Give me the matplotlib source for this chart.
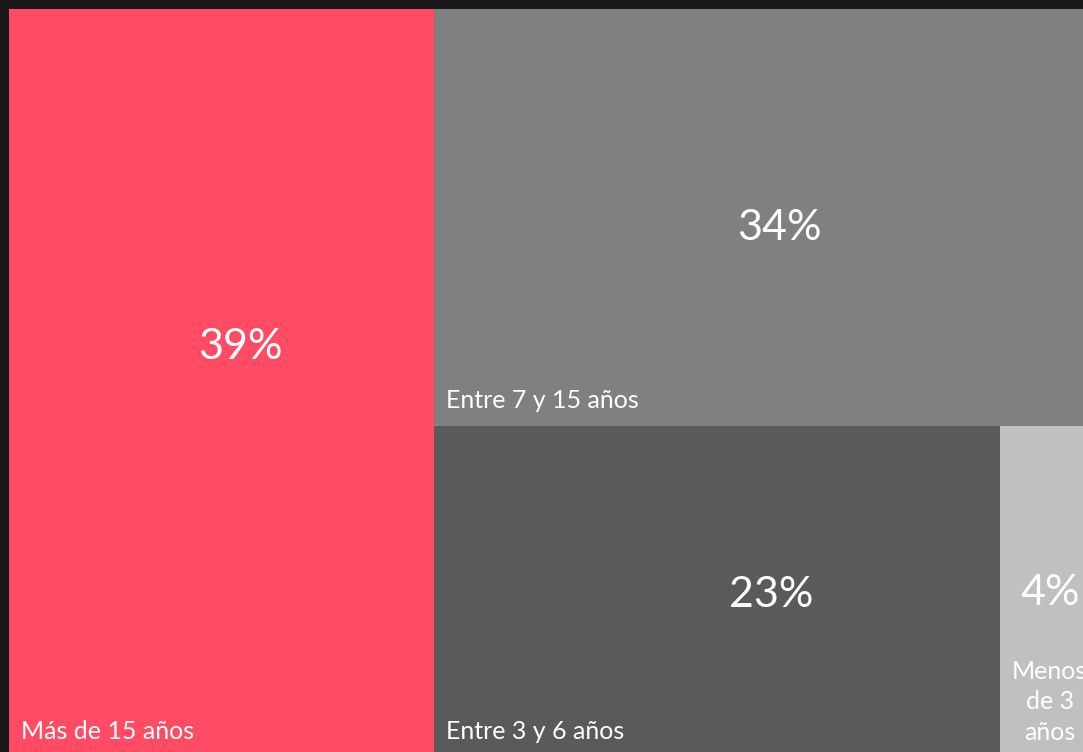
import matplotlib.pyplot as plt
from matplotlib.patches import Rectangle

labels = ["Más de 15 años", "Entre 7 y 15 años", "Entre 3 y 6 años", "Menos\nde 3\naños"]
values = [39, 34, 23, 4]
colors = ["#FF4B63", "#808080", "#5A5A5A", "#C0C0C0"]

W, H = 1083, 752
# treemap canvas is a bit larger than the picture (cropped right and bottom)
CW, CH = 1090, 748
fig = plt.figure(figsize=(W / 100, H / 100), dpi=100)
fig.patch.set_facecolor("#171717")
ax = fig.add_axes([9 / W, (H - 9 - CH) / H, CW / W, CH / H])
ax.set_xlim(0, 1)
ax.set_ylim(1, 0)
ax.axis("off")

total = sum(values)
# slice layout: first column full height, then top row, then bottom row split
w0 = values[0] / total
rects = [(0, 0, w0, 1)]
rest_w = 1 - w0
h1 = values[1] / total / rest_w
rects.append((w0, 0, rest_w, h1))
bottom_h = 1 - h1
w2 = values[2] / (values[2] + values[3]) * rest_w
rects.append((w0, h1, w2, bottom_h))
rects.append((w0 + w2, h1, rest_w - w2, bottom_h))

# where the percentages sit inside each box (fractions of the box)
pct_pos = [(0.545, 0.452), (0.52, 0.525), (0.595, 0.51), (0.5, 0.505)]

font = "Lato"
for i, (x, y, w, h) in enumerate(rects):
    ax.add_patch(Rectangle((x, y), w, h, facecolor=colors[i], edgecolor="none"))
    px, py = pct_pos[i]
    ax.text(x + w * px, y + h * py, f"{values[i]}%", color="white",
            fontsize=31, family=font, ha="center", va="center")
    if i < 3:
        ax.text(x + 12 / CW, y + h - 18 / CH, labels[i], color="white",
                fontsize=18, family=font, ha="left", va="baseline")
    else:
        ax.text(x + w / 2, y + h - 13 / CH, labels[i], color="white",
                fontsize=18, family=font, ha="center", va="bottom",
                linespacing=1.4)

fig.savefig("out.png", dpi=100, facecolor=fig.get_facecolor())
